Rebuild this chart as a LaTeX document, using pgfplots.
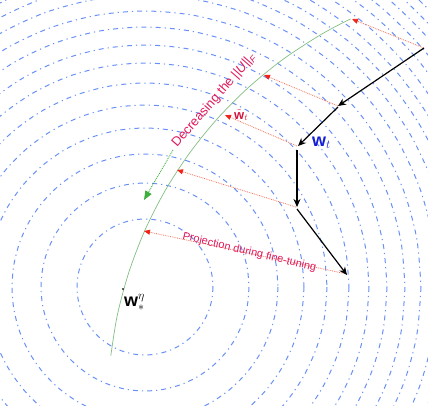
\documentclass[border=0pt]{standalone}
\usepackage{pgfplots}
\pgfplotsset{compat=1.18}
\usepackage{pgfplotstable}
\usepackage{fontspec}
\setmainfont{Liberation Sans}
\usetikzlibrary{arrows.meta}
\definecolor{contour}{RGB}{105,145,245}
\definecolor{greencurve}{RGB}{130,190,130}
\definecolor{greenarrow}{RGB}{60,175,60}
\definecolor{redline}{RGB}{240,115,90}
\definecolor{redhead}{RGB}{240,35,25}
\definecolor{crimson}{RGB}{225,25,90}
\definecolor{wblue}{RGB}{20,30,210}
\definecolor{wred}{RGB}{210,20,60}
\pgfplotstableread{
x y
1.0000 0.0000
0.9848 0.1736
0.9397 0.3420
0.8660 0.5000
0.7660 0.6428
0.6428 0.7660
0.5000 0.8660
0.3420 0.9397
0.1736 0.9848
0.0000 1.0000
-0.1736 0.9848
-0.3420 0.9397
-0.5000 0.8660
-0.6428 0.7660
-0.7660 0.6428
-0.8660 0.5000
-0.9397 0.3420
-0.9848 0.1736
-1.0000 0.0000
-0.9848 -0.1736
-0.9397 -0.3420
-0.8660 -0.5000
-0.7660 -0.6428
-0.6428 -0.7660
-0.5000 -0.8660
-0.3420 -0.9397
-0.1736 -0.9848
0.0000 -1.0000
0.1736 -0.9848
0.3420 -0.9397
0.5000 -0.8660
0.6428 -0.7660
0.7660 -0.6428
0.8660 -0.5000
0.9397 -0.3420
0.9848 -0.1736
1.0000 0.0000
}\unitshape
\pgfplotstableread{
x y
110.8 355.7
117.3 315.2
128.9 272.1
144.9 230.3
165.2 190.5
189.6 153.0
217.7 118.3
249.3 86.7
284.0 58.6
321.5 34.2
350.5 18.9
}\greenarc
\begin{document}
\begin{tikzpicture}
\begin{axis}[
  width=428pt, height=405pt, scale only axis,
  xmin=0, xmax=428, ymin=0, ymax=405, y dir=reverse,
  hide axis, clip=true,
]
\pgfplotsinvokeforeach{68,104,133,159,182,204,224,242,260,276,292,306,319,331,343,355,366,377,387,397,407,417,426,435}{
  \addplot[contour, line width=1.0pt, dash pattern=on 5pt off 4pt on 1.2pt off 4pt, smooth]
    table[x expr=\thisrow{x}*#1+145, y expr=\thisrow{y}*#1+287] {\unitshape};
}
% green arc
\addplot[greencurve, line width=0.7pt, smooth] table {\greenarc};
% green dotted arrow
\addplot[greenarrow, line width=0.9pt, densely dotted, -{Triangle[length=9pt,width=7pt,color=greenarrow]}]
  coordinates {(173,150) (144,200)};
% red projection arrows
\addplot[redline, line width=0.8pt, densely dotted, -{Triangle[length=6pt,width=5pt,color=redhead]}] coordinates {(424,48) (352,19)};
\addplot[redline, line width=0.8pt, densely dotted, -{Triangle[length=6pt,width=5pt,color=redhead]}] coordinates {(338,106) (264,75)};
\addplot[redline, line width=0.8pt, densely dotted, -{Triangle[length=6pt,width=5pt,color=redhead]}] coordinates {(297,146) (225,115)};
\addplot[redline, line width=0.8pt, densely dotted, -{Triangle[length=6pt,width=5pt,color=redhead]}] coordinates {(296,207) (177,170)};
\addplot[redline, line width=0.8pt, densely dotted, -{Triangle[length=6pt,width=5pt,color=redhead]}] coordinates {(347,274) (144,231)};
% black path
\addplot[black, line width=1.2pt, -{Stealth[length=8pt,width=7pt]}] coordinates {(424,48) (338,106)};
\addplot[black, line width=1.2pt, -{Stealth[length=8pt,width=7pt]}] coordinates {(338,107) (298,146)};
\addplot[black, line width=1.2pt, -{Stealth[length=8pt,width=7pt]}] coordinates {(297,150) (297,207)};
\addplot[black, line width=1.2pt, -{Stealth[length=8pt,width=7pt]}] coordinates {(297,209) (347,275)};
% optimum dot
\addplot[only marks, mark=*, mark size=0.7pt, black] coordinates {(123,289)};
% labels
\node[anchor=base west, rotate=49, text=crimson, inner sep=0pt, font=\fontsize{13}{13}\selectfont]
  at (axis cs:177,148) {Decreasing the ||\textit{U}||\textsubscript{\textit{F}}};
\node[anchor=base west, rotate=-13.5, text=crimson, inner sep=0pt, font=\fontsize{11}{11}\selectfont]
  at (axis cs:182,239) {Projection during fine-tuning};
\node[anchor=base west, text=wblue, inner sep=0pt, font=\fontsize{18}{18}\selectfont]
  at (axis cs:312,146) {$\mathbf{w}_t$};
\node[anchor=base west, text=wred, inner sep=0pt, font=\fontsize{13}{13}\selectfont]
  at (axis cs:234,119) {$\tilde{\mathbf{w}}_t$};
\node[anchor=base west, text=black, inner sep=0pt, font=\fontsize{18}{18}\selectfont]
  at (axis cs:124,306) {$\mathbf{w}_*^{\eta}$};
\end{axis}
\end{tikzpicture}
\end{document}
